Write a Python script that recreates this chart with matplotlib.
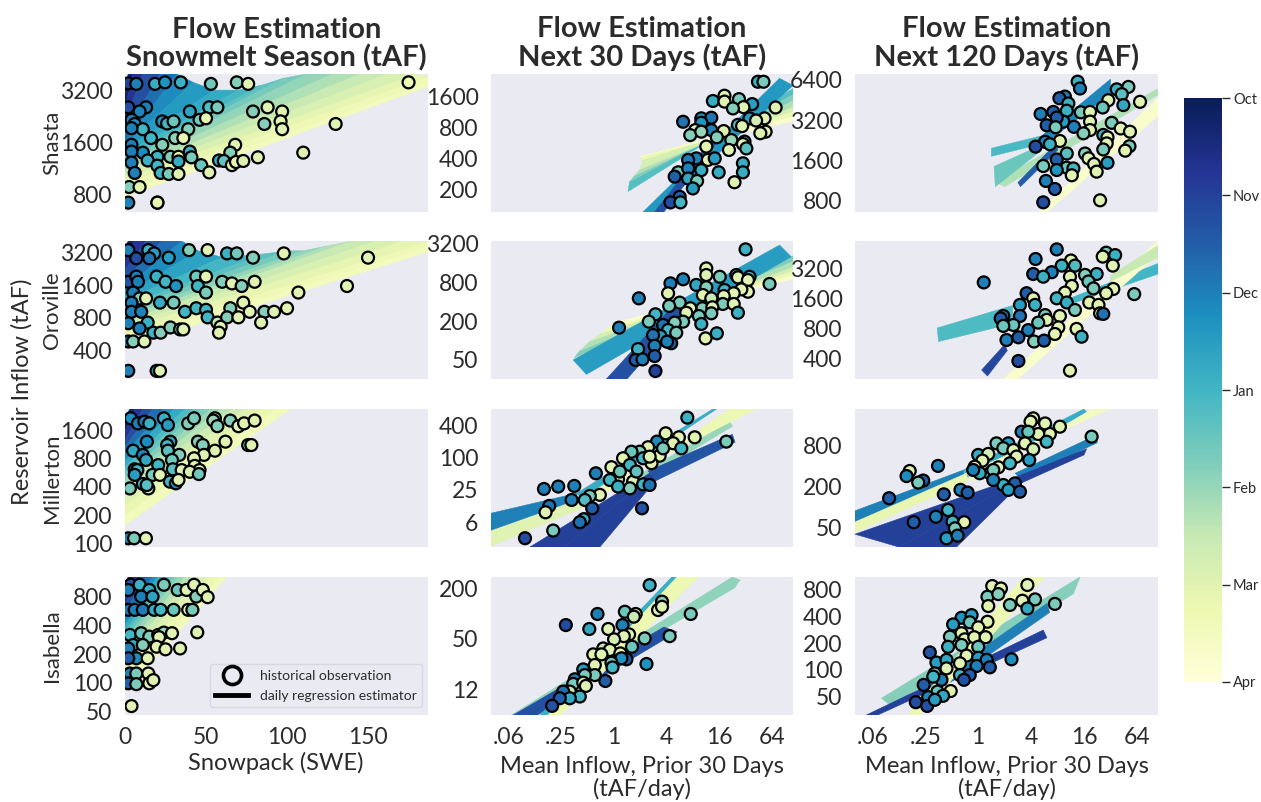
"""
Grid 4x3: observed flow vs predictor for four reservoirs, coloured by month.
Flows and inflows are stored as log2(tAF), read off the picture.
Rows below are (x, log2 flow, month) with month 0 = Oct ... 6 = Apr.
"""

import matplotlib
matplotlib.use("Agg")
import matplotlib.pyplot as plt
import numpy as np
from matplotlib.cm import ScalarMappable
from matplotlib.collections import PolyCollection
from matplotlib.colors import Normalize
from matplotlib.lines import Line2D

plt.rcParams["font.family"] = ["Lato", "DejaVu Sans"]

TEXT_COLOR = "#2b2b2b"
PANEL_BG = "#EAEAF2"

RESERVOIRS = ["Shasta", "Oroville", "Millerton", "Isabella"]
MONTHS = ["Oct", "Nov", "Dec", "Jan", "Feb", "Mar", "Apr"]
TITLES = ["Flow Estimation\nSnowmelt Season (tAF)", "Flow Estimation\nNext 30 Days (tAF)",
          "Flow Estimation\nNext 120 Days (tAF)"]

SNOW_TICKS = [0, 50, 100, 150]
INFLOW_TICKS = [-4, -2, 0, 2, 4, 6]
INFLOW_LABELS = [".06", ".25", "1", "4", "16", "64"]

# observed points
SHASTA_SNOW = [
    (2, 11.78, 1), (7, 11.77, 2), (18.5, 11.77, 2.8), (24.7, 11.8, 2.3), (34.4, 11.8, 2.9), (53, 11.77, 3.6),
    (69, 11.8, 3.8), (76, 11.77, 5), (175, 11.8, 5.3), (2, 11.32, 1.2), (13, 11.32, 2), (9, 11.24, 2.1),
    (40, 11.24, 2.6), (52, 11.32, 3.2), (57, 11.32, 3.7), (79, 11.24, 3.8), (88, 11.32, 5), (97, 11.24, 5),
    (4, 11.08, 2), (6, 11.0, 2.2), (23, 11.05, 2.3), (26, 11.01, 3), (30, 11.05, 3.5), (46, 11.08, 3.6),
    (50, 11.11, 5.1), (86, 11.0, 3.8), (96, 11.05, 5), (97, 10.9, 5), (130, 11.0, 5), (11, 10.9, 3),
    (4, 10.92, 2), (39, 10.9, 3.8), (31, 10.73, 3.9), (36, 10.73, 5.2), (16, 10.73, 3), (4, 10.6, 2),
    (23, 10.6, 3.8), (68, 10.6, 5), (11, 10.45, 2.2), (4, 10.47, 2), (20, 10.37, 3), (28, 10.37, 3.8),
    (33, 10.37, 5.2), (40, 10.47, 2.9), (41, 10.36, 3.7), (65, 10.45, 3.8), (110, 10.45, 5), (82, 10.36, 5),
    (4, 10.26, 2), (14, 10.3, 2.9), (20, 10.2, 3), (33, 10.28, 2.8), (47, 10.21, 3.5), (58, 10.3, 2.9),
    (61, 10.29, 3.4), (66, 10.21, 5), (68.5, 10.27, 5.2), (73, 10.29, 4.9), (6, 10.06, 2), (22, 10.06, 3),
    (27, 10.04, 3.7), (33, 10.04, 5), (52, 10.07, 5), (2.5, 9.79, 3.8), (9, 9.79, 5), (2, 9.49, 2),
    (20, 9.49, 2.9), (20, 9.49, 5.2),
]
OROVILLE_SNOW = [
    (2, 11.72, 2), (14.4, 11.72, 2.9), (18, 11.62, 2.5), (7, 11.47, 1.2), (15, 11.47, 1.8), (27, 11.49, 2.5),
    (39.5, 11.72, 3.8), (51, 11.72, 5), (63, 11.62, 2.9), (69, 11.62, 3.6), (79, 11.49, 3.8), (98, 11.62, 5),
    (150, 11.49, 5), (2, 10.75, 1.3), (7, 10.91, 2), (8, 10.75, 2), (19.5, 10.91, 2.9), (25, 10.75, 3),
    (31.5, 10.62, 2.3), (44, 10.91, 3.6), (50, 10.91, 5), (45, 10.62, 3), (60, 10.75, 3.8), (66, 10.7, 5),
    (72, 10.62, 3.8), (80, 10.75, 5), (50, 10.42, 3.7), (107, 10.42, 5), (137, 10.62, 5), (5, 10.42, 2),
    (9, 10.24, 3.8), (13, 10.24, 5), (4, 10.11, 2), (21.6, 10.11, 2.8), (30, 10.11, 3.7), (73, 10.11, 5),
    (4, 9.83, 2), (10, 9.83, 2), (37, 9.83, 3), (44, 9.94, 3), (50, 9.89, 3), (65, 9.94, 3.8), (77, 9.83, 5),
    (86, 9.83, 3.8), (92, 9.83, 4.9), (100, 9.94, 5), (2, 9.48, 2), (14, 9.5, 2.9), (51, 9.66, 3),
    (57, 9.5, 4.5), (63, 9.66, 3.8), (70, 9.66, 5), (84, 9.5, 5), (9, 9.32, 2), (17.5, 9.19, 3), (22, 9.19, 3.8),
    (28, 9.35, 3.8), (34, 9.29, 3.5), (36, 9.29, 5), (59, 9.37, 5), (58, 9.19, 5), (2, 8.92, 2), (5, 8.92, 3.8),
    (12, 8.92, 5), (2, 8.02, 2), (19.5, 8.02, 2.5), (21.6, 8.02, 5),
]
MILLERTON_SNOW = [
    (3.5, 11.08, 2.2), (8, 10.9, 2), (12, 10.96, 2), (15, 10.9, 2.9), (24, 11.08, 2.8), (26.5, 10.84, 2.5),
    (39, 10.9, 3.8), (42.6, 11.08, 3.7), (55.5, 11.08, 5), (54.5, 11, 4), (57, 10.8, 3.8), (65, 11, 3.8),
    (70, 10.8, 5), (73.5, 10.9, 5), (80, 11, 5), (13.5, 10.25, 2.2), (28, 10.25, 2.7), (26, 10.13, 3),
    (45, 10.25, 3.8), (48, 10.13, 3.8), (62, 10.25, 5), (76, 10.13, 3.5), (78, 10.13, 5), (5, 9.93, 2.7),
    (26.5, 9.93, 3.3), (11, 9.78, 2), (33.5, 9.78, 3.8), (55.5, 9.93, 5), (48.7, 9.78, 4.9), (42.6, 9.66, 5),
    (13, 9.6, 2.7), (29, 9.6, 3.6), (20.5, 9.42, 3), (6, 9.27, 2.5), (7.6, 9.24, 3), (29.5, 9.27, 3.3),
    (43, 9.39, 5), (46, 9.24, 5), (35, 9.24, 5), (40, 9.18, 4.8), (6, 9.07, 2.5), (17, 9.07, 3.7),
    (21.6, 9.07, 5), (45.6, 9.1, 3.6), (11, 8.75, 3), (27.7, 8.83, 3), (31.4, 8.77, 2.3), (33, 8.89, 5),
    (3, 8.59, 3.7), (14.4, 8.59, 5), (13.4, 8.71, 3.3), (2, 6.82, 2), (5.6, 6.82, 3.7), (12.9, 6.82, 5),
]
ISABELLA_SNOW = [
    (3.5, 10.05, 1.5), (2, 9.87, 2), (9, 10.05, 2.9), (15, 9.87, 2.8), (10, 9.64, 2), (17, 9.64, 2.6),
    (24, 10.05, 3.7), (32.5, 9.87, 3.5), (38, 9.87, 5), (42.6, 10.05, 5), (44, 9.64, 3.8), (48, 9.87, 5),
    (51, 9.62, 5), (2, 9.18, 1.8), (6, 9.18, 2), (11, 9.18, 1.9), (18, 9.18, 2.8), (22, 9.18, 3), (30, 9.18, 3.5),
    (39, 9.18, 5), (41.6, 9.18, 3.7), (44.6, 8.4, 4.9), (3, 8.31, 3), (10, 8.37, 3.5), (15, 8.25, 3.8),
    (20.5, 8.31, 5), (24, 8.39, 4), (29, 8.37, 5), (21, 8.23, 5), (5, 7.96, 2.8), (11, 7.96, 3.8), (2, 7.84, 2),
    (19.5, 7.9, 5), (25, 7.81, 5), (34, 7.84, 5), (7, 7.5, 2.2), (2, 7.5, 1.5), (14, 7.5, 5), (3, 6.97, 2),
    (7, 6.97, 3.7), (14.4, 6.97, 5), (2, 6.63, 1.5), (7, 6.6, 3.7), (15, 6.63, 5), (17.5, 6.74, 5), (4, 5.84, 5),
]

SHASTA_30 = [
    (5.47, 11.12, 2.9), (5.68, 11.12, 3.7), (3.76, 10.5, 2.8), (4.2, 10.67, 5), (4.2, 10.48, 4.9), (4.75, 10.56, 3.7),
    (5.25, 10.4, 2.5), (4.92, 10.3, 5), (4.52, 10.26, 3.8), (6.14, 10.29, 5), (2.63, 9.83, 1.8), (3.32, 9.94, 2.5),
    (3.7, 9.96, 1.8), (3.32, 9.8, 2.3), (5.15, 9.94, 2.5), (5.72, 9.94, 5), (5.4, 9.87, 4.8), (4.71, 9.73, 3.2),
    (4.87, 9.69, 5), (3.09, 9.56, 5), (3.7, 9.56, 2), (2.9, 9.4, 3.8), (3.32, 9.51, 4), (4.17, 9.53, 5),
    (5.76, 9.51, 5), (5.56, 9.46, 4.9), (3.91, 9.33, 3.8), (3.51, 9.03, 5), (4.46, 9.24, 4), (4.96, 9.19, 2.8),
    (4.9, 9.11, 5), (5.03, 8.97, 3.3), (4.37, 8.92, 5), (3.13, 8.65, 2), (2.82, 8.6, 1.9), (3.57, 8.6, 5),
    (3.83, 8.65, 2.5), (4.9, 8.49, 2.8), (3.32, 8.27, 2.8), (2.44, 8.2, 3.7), (2.82, 8.33, 2), (3.98, 8.2, 2.8),
    (4.9, 8.2, 2.8), (4.58, 7.88, 5), (2.31, 8.06, 1.5), (2.82, 8.0, 2.7), (3.16, 7.92, 3.7), (3.0, 7.68, 2.5),
    (2.5, 7.41, 1.5), (2.15, 7.23, 1.2), (2.53, 7.23, 3),
]
OROVILLE_30 = [
    (5.0, 11.33, 2.9), (0.2, 7.3, 2), (0.95, 8.81, 2), (1.58, 7.99, 3), (1.33, 7.61, 3.7), (3.51, 10.35, 5),
    (3.51, 10.01, 4.9), (4.02, 9.92, 3.7), (2.63, 9.79, 2), (2.15, 9.58, 2), (4.65, 10.01, 3.3), (4.71, 9.89, 5),
    (5.15, 9.92, 3), (5.09, 9.75, 5), (5.91, 9.55, 3.7), (3.13, 9.5, 2.7), (3.51, 9.38, 3.8), (2.06, 9.07, 5),
    (4.2, 9.24, 3), (3.38, 8.98, 5), (5.09, 9.15, 5), (4.84, 9.27, 5), (4.55, 9.07, 5), (4.17, 8.93, 5),
    (2.5, 8.59, 3.7), (3.7, 8.81, 4.5), (2.1, 8.42, 3.7), (4.14, 8.52, 3.7), (4.55, 8.52, 5), (3.36, 8.3, 3.8),
    (3.74, 8.35, 5), (2.9, 8.3, 5), (2.75, 8.07, 5), (3.7, 8.04, 3.7), (4.71, 8.07, 2.9), (1.87, 7.44, 1.8),
    (2.63, 7.61, 3.7), (2.31, 7.56, 3.8), (3.23, 7.9, 3.7), (3.32, 7.49, 2.9), (2.06, 7.18, 3), (2.37, 7.04, 3.7),
    (3.91, 7.01, 2.9), (3.48, 6.75, 5), (1.77, 6.87, 2.5), (1.49, 6.92, 1.8), (2.18, 6.5, 1.5), (2.02, 6.58, 2),
    (1.55, 6.37, 2), (0.92, 6.2, 2.9), (1.55, 5.84, 1.5), (0.83, 5.64, 1.5), (1.09, 5.67, 2), (1.58, 5.07, 1),
]
MILLERTON_30 = [
    (2.79, 9.14, 2.9), (4.27, 7.64, 3.7), (1.97, 8.16, 5), (1.64, 7.64, 2.2), (2.47, 7.91, 5), (3.07, 7.91, 5),
    (2.25, 7.54, 5), (2.56, 7.22, 3), (1.3, 7.29, 5), (1.74, 6.76, 5), (0.98, 7.01, 3.8), (0.67, 7.01, 3.5),
    (0.35, 6.6, 5), (-0.09, 6.04, 5), (-0.68, 5.66, 2), (1.43, 6.29, 5), (0.73, 5.14, 4.9), (0.16, 5.29, 5),
    (-0.15, 5.24, 3), (0.61, 4.72, 3.8), (0.16, 4.83, 2.9), (1.11, 4.97, 3), (1.36, 4.93, 1.8), (-1.5, 4.87, 2),
    (-2.11, 4.83, 2), (-2.65, 4.68, 2), (-0.53, 4.31, 5), (-0.91, 4.24, 3.7), (-1.1, 3.99, 3.2), (-1.6, 3.99, 2),
    (-2.45, 3.62, 1.8), (-2.59, 3.22, 5), (-0.82, 3.47, 1.5), (1.07, 3.47, 1.3), (-1.14, 2.79, 2.9), (-1.29, 2.6, 1.8),
    (-2.3, 2.08, 3.7), (-3.37, 1.6, 1.2), (0.61, 6.18, 3), (1.11, 6.6, 3), (1.87, 7.22, 3.7), (0.86, 5.77, 3.4),
    (0.23, 5.77, 3.5), (1.36, 6.7, 4.9),
]
ISABELLA_30 = [
    (1.36, 7.8, 2.9), (0.42, 6.72, 3.5), (0.83, 6.63, 5), (0.76, 6.52, 4.5), (-0.62, 6.63, 2), (-1.82, 6.18, 1.2),
    (-0.93, 6.02, 2.7), (-0.21, 6.02, 5), (1.83, 7.13, 3.8), (1.68, 6.79, 5), (1.83, 6.92, 5), (2.92, 6.63, 3.7),
    (0.33, 6.18, 2), (2.12, 5.73, 3.7), (1.17, 5.64, 3.7), (0.58, 5.8, 5), (0.38, 5.73, 5), (0.01, 5.6, 4.8),
    (0.69, 5.3, 3.5), (1.24, 4.6, 2.3), (-0.4, 5.23, 4.5), (-0.15, 5.17, 5), (-0.78, 4.99, 5), (0.25, 5.03, 5),
    (-0.47, 4.99, 5), (0.48, 4.79, 1.5), (0.29, 4.83, 2.3), (-0.09, 4.65, 3.7), (-0.72, 4.56, 5), (-0.05, 4.46, 3),
    (-0.32, 3.91, 1.5), (-0.72, 4.15, 3.7), (-1.16, 4.38, 2.5), (-1.1, 4.15, 3.7), (-1.48, 3.98, 2), (-1.54, 3.79, 3.7),
    (-1.16, 3.84, 5), (-1.06, 3.71, 5), (-1.67, 3.48, 4.5), (-1.29, 3.28, 3), (-1.92, 3.48, 1.8), (-1.67, 3.21, 2.7),
    (-2.05, 3.21, 1.5), (-2.34, 2.9, 1.3),
]

SHASTA_120 = [
    (3.76, 12.6, 2.9), (3.85, 12.43, 2), (5.24, 12.41, 2.9), (5.68, 12.47, 3.7), (5.43, 12.29, 3.3), (3.28, 12.23, 2),
    (3.07, 12.19, 1.5), (3.41, 12.06, 2.9), (4.92, 12.14, 5), (6.12, 12.1, 5), (5.49, 12.02, 2.7), (4.71, 11.96, 3.5),
    (2.36, 11.8, 2), (2.84, 11.85, 1.5), (3.35, 11.88, 2.9), (3.88, 11.84, 3.7), (4.23, 11.85, 5), (3.22, 11.61, 2.5),
    (2.97, 11.71, 1.5), (5.05, 11.58, 3.7), (2.59, 11.52, 1.5), (3.62, 11.48, 2), (2.93, 11.47, 3.7), (4.23, 11.61, 5),
    (4.23, 11.4, 5), (3.98, 11.32, 3.8), (5.39, 11.44, 5), (5.74, 11.36, 5), (4.73, 11.28, 2.9), (4.89, 11.22, 5),
    (3.09, 11.13, 5), (2.53, 11.11, 2), (2.71, 11.05, 2.9), (2.17, 10.99, 1.2), (4.86, 11.07, 5), (4.73, 10.92, 3.7),
    (5.72, 11.0, 3.7), (5.56, 10.89, 5), (3.35, 10.82, 3.3), (4.04, 10.82, 3.8), (2.97, 10.67, 1.5), (4.17, 10.7, 5),
    (4.89, 10.59, 2.5), (4.38, 10.56, 5), (2.46, 10.51, 3.7), (3.35, 10.47, 3.5), (3.6, 10.45, 3), (2.97, 10.41, 2.3),
    (4.48, 10.37, 5), (3.54, 10.28, 5), (2.56, 10.14, 2), (2.9, 9.94, 1.5), (2.46, 9.61, 1.2), (4.61, 9.66, 5),
]
OROVILLE_120 = [
    (2.97, 12.27, 2), (2.17, 11.95, 2), (4.84, 12.16, 3.7), (5.18, 12.08, 2.9), (4.71, 12.03, 5), (3.51, 11.9, 5),
    (3.16, 11.73, 2.9), (5.09, 11.73, 5), (3.66, 11.73, 3.2), (0.21, 11.17, 2), (2.08, 11.45, 1.5), (2.78, 11.51, 2),
    (2.46, 11.36, 2.9), (4.48, 11.45, 2.9), (4.04, 11.42, 3.8), (3.47, 11.36, 5), (4.17, 11.2, 3.5), (3.54, 11.05, 5),
    (4.36, 10.97, 3.7), (5.11, 10.95, 5), (5.9, 10.78, 3.7), (3.28, 10.83, 5), (4.84, 10.81, 5), (1.83, 10.81, 1.5),
    (2.08, 10.64, 5), (2.97, 10.64, 3), (1.58, 10.42, 2.5), (2.15, 10.42, 2.9), (4.2, 10.5, 5), (4.55, 10.42, 5),
    (3.35, 10.5, 2.8), (3.66, 10.25, 3.7), (4.61, 10.14, 5), (4.73, 10.12, 1.8), (0.95, 10.05, 2), (1.58, 10.05, 1.8),
    (2.53, 10.08, 3.7), (3.09, 10.05, 5), (2.59, 9.92, 5), (2.27, 9.83, 3.5), (0.85, 9.97, 1.5), (1.33, 9.75, 3.5),
    (0.95, 9.72, 3.5), (3.03, 9.67, 5), (3.72, 9.62, 5), (1.89, 9.58, 2), (2.9, 9.45, 5), (3.91, 9.36, 2.9),
    (1.07, 9.25, 2), (1.52, 9.34, 1.5), (2.11, 9.2, 3.8), (2.49, 9.23, 1.5), (1.52, 8.55, 1.2), (3.47, 8.23, 5),
]
MILLERTON_120 = [
    (2.08, 11.0, 5), (1.98, 10.84, 5), (2.53, 10.75, 5), (3.09, 10.59, 5), (1.64, 10.34, 2), (2.71, 10.23, 5),
    (2.27, 10.23, 5), (1.89, 10.34, 3.5), (4.29, 10.1, 3.7), (2.59, 9.85, 3), (1.77, 9.77, 5), (0.69, 9.77, 3.7),
    (1.14, 9.77, 2.5), (0.95, 9.53, 3.7), (1.33, 9.44, 5), (2.08, 9.48, 4.8), (0.0, 9.2, 2.8), (0.38, 9.25, 4.8),
    (1.45, 9.12, 5), (1.93, 8.95, 2.5), (0.16, 8.92, 5), (-1.52, 8.66, 2), (-0.13, 8.62, 5), (0.76, 8.59, 5),
    (-2.59, 8.41, 5), (-2.71, 8.16, 2.2), (-2.08, 7.94, 1.5), (-2.27, 7.84, 3.7), (1.2, 8.79, 3), (0.44, 8.3, 3.3),
    (0.06, 8.3, 2.8), (-0.19, 8.46, 2), (0.95, 7.72, 2.8), (1.39, 7.8, 1.5), (1.14, 7.48, 2.5), (1.58, 7.39, 1.5),
    (-1.3, 7.26, 1.5), (-0.67, 7.48, 2), (-0.4, 7.35, 1.5), (-3.37, 7.07, 1.5), (-1.14, 6.49, 3), (-2.44, 5.89, 1.5),
    (-1.6, 6.16, 2), (-0.97, 5.92, 3), (-0.53, 5.89, 5), (-0.88, 5.59, 3.7), (-1.2, 5.1, 2.5), (-0.78, 5.23, 2),
    (0.57, 8.46, 3.7), (0.57, 7.97, 2),
]
ISABELLA_120 = [
    (0.53, 9.79, 5), (0.86, 9.7, 5), (1.86, 9.83, 5), (0.35, 9.39, 3.7), (0.76, 9.49, 3.8), (0.38, 9.04, 5),
    (1.2, 9.08, 3.7), (1.67, 9.24, 5), (2.15, 9.29, 3.7), (1.86, 8.95, 2.7), (2.9, 9.12, 3.7), (-0.63, 8.6, 2.3),
    (-0.25, 8.7, 2.5), (-0.95, 8.35, 2.5), (-0.32, 8.43, 3.5), (0.35, 8.45, 5), (-0.63, 8.02, 5), (0.0, 8.24, 5),
    (-1.07, 7.89, 3.7), (-0.51, 7.79, 5), (-0.15, 7.87, 5), (0.28, 7.87, 5), (-1.83, 7.3, 1.3), (-1.14, 7.51, 2.9),
    (-0.63, 7.58, 3.7), (0.0, 7.51, 3.5), (1.26, 7.04, 2.2), (-0.44, 7.18, 5), (-1.58, 6.92, 2.5), (-1.2, 7.02, 2.7),
    (-0.69, 6.89, 5), (0.0, 7.1, 2.5), (0.32, 7.02, 2), (-1.2, 6.7, 5), (-1.64, 6.51, 3.7), (-0.69, 6.45, 3),
    (-0.06, 6.79, 2), (0.44, 6.74, 1.5), (-0.32, 6.45, 1.5), (-0.54, 6.27, 1.3), (-1.39, 6.27, 2), (-2.06, 6.08, 1.5),
    (-1.04, 5.85, 5), (-1.54, 5.83, 3.5), (-1.33, 5.67, 2.7), (-1.89, 5.62, 2.2), (-2.36, 5.43, 1.2), (-1.93, 5.29, 1.3),
    (-1.64, 5.52, 2.5), (-1.7, 6.39, 3),
]

# regression estimators as fans: each group is a list of (month, x0, log2 y0, x1, log2 y1)
# and the space between neighbouring lines of a group is filled
SHASTA_SNOW_FIT = [[
    (0, 0, 11.7, 2, 11.96), (0.5, 0, 11.3, 5, 11.96), (1, 0, 11.05, 11, 11.96), (1.5, 0, 10.85, 22, 11.96),
    (2, 0, 10.65, 32, 11.96), (2.3, 0, 10.58, 42, 11.8), (2.6, 0, 10.5, 55, 11.65), (2.9, 0, 10.43, 70, 11.65),
    (3.2, 0, 10.37, 85, 11.75), (3.5, 0, 10.3, 98, 11.88), (3.8, 0, 10.24, 112, 11.96), (4.1, 0, 10.17, 128, 11.96),
    (4.4, 0, 10.1, 145, 11.96), (4.7, 0, 10.03, 162, 11.96), (5, 0, 9.95, 180, 11.96), (5.2, 0, 9.85, 187, 11.9),
    (5.4, 0, 9.72, 187, 11.8), (5.5, 0, 9.6, 187, 11.72),
]]
OROVILLE_SNOW_FIT = [[
    (0, 0, 11.8, 2, 12), (0.5, 0, 11.4, 6, 12), (1, 0, 11.1, 13, 12), (1.5, 0, 10.8, 23, 12), (2, 0, 10.55, 35, 12),
    (2.4, 0, 10.35, 45, 11.7), (2.8, 0, 10.18, 60, 11.5), (3.2, 0, 10.0, 85, 11.6), (3.5, 0, 9.9, 100, 11.7),
    (3.8, 0, 9.78, 110, 11.7), (4.1, 0, 9.66, 125, 11.85), (4.4, 0, 9.54, 140, 12), (4.7, 0, 9.42, 155, 12),
    (5, 0, 9.3, 172, 12), (5.2, 0, 9.12, 187, 11.96), (5.4, 0, 8.95, 187, 11.82), (5.5, 0, 8.75, 187, 11.67),
]]
MILLERTON_SNOW_FIT = [[
    (0, 0, 11.1, 3, 11.41), (0.5, 0, 10.6, 6, 11.41), (1, 0, 10.3, 11, 11.41), (1.5, 0, 10.05, 17, 11.41),
    (2, 0, 9.8, 24, 11.41), (2.5, 0, 9.55, 30, 11.41), (3, 0, 9.35, 37, 11.41), (3.3, 0, 9.2, 42, 11.41),
    (3.6, 0, 9.05, 47, 11.41), (3.9, 0, 8.9, 53, 11.41), (4.2, 0, 8.75, 59, 11.41), (4.5, 0, 8.55, 66, 11.41),
    (4.8, 0, 8.3, 74, 11.41), (5.1, 0, 8.0, 84, 11.41), (5.3, 0, 7.65, 93, 11.41), (5.5, 0, 7.29, 102, 11.41),
]]
ISABELLA_SNOW_FIT = [[
    (0, 0, 10.1, 2, 10.32), (0.5, 0, 9.7, 5, 10.32), (1, 0, 9.35, 9, 10.32), (1.5, 0, 9.1, 13, 10.32),
    (2, 0, 8.85, 17, 10.32), (2.5, 0, 8.65, 20, 10.32), (3, 0, 8.45, 24, 10.32), (3.3, 0, 8.3, 27, 10.32),
    (3.6, 0, 8.15, 30, 10.32), (3.9, 0, 8.0, 33, 10.32), (4.2, 0, 7.8, 37, 10.32), (4.5, 0, 7.6, 41, 10.32),
    (4.8, 0, 7.35, 46, 10.32), (5.1, 0, 7.05, 52, 10.32), (5.3, 0, 6.7, 58, 10.32), (5.5, 0, 6.34, 63, 10.32),
]]
SHASTA_30_FIT = [
    [(3, 0.54, 7.58, 6.8, 10.9), (3.5, 0.6, 7.9, 6.8, 10.7), (4, 0.8, 8.1, 6.8, 10.5), (4.5, 1.0, 8.3, 6.8, 10.3),
     (5, 1.1, 8.6, 6.8, 10.15), (5.5, 1.0, 8.7, 6.8, 10.0), (6, 1.9, 8.9, 6.8, 9.85)],
    [(2.6, 1.11, 6.92, 6.29, 11.23), (2.2, 1.55, 6.92, 6.8, 11.0)],
    [(1, 1.55, 6.92, 3.89, 9.46), (1.5, 1.9, 6.92, 4.3, 9.6)],
]
OROVILLE_30_FIT = [
    [(3.5, -1.5, 5.75, 6.8, 11.0), (4, -1.3, 6.1, 6.8, 10.7), (4.5, -0.9, 6.6, 6.8, 10.4), (5, -0.5, 7.0, 6.8, 10.2),
     (5.5, -0.2, 7.3, 6.8, 10.0), (6, 0.1, 7.6, 6.8, 9.8)],
    [(2.7, -1.54, 5.64, 6.29, 11.55), (2.3, -1.04, 4.9, 6.73, 10.95)],
    [(1, -0.28, 4.66, 2.3, 8.5), (1.5, 0.5, 4.66, 3, 8.5)],
]
MILLERTON_30_FIT = [
    [(4, 1.0, 5.6, 4.4, 8.9), (4, 1.2, 5.3, 4.5, 8.6)],
    [(1, -3.18, 1.05, 1.36, 5.66), (1, -1.9, 1.05, 1.5, 5.6), (1, -0.53, 1.05, 1.74, 5.5)],
    [(1.5, 1.3, 5.8, 4.5, 8.1), (1.2, 1.6, 5.2, 4.6, 7.6)],
    [(5.5, -4.66, 2.05, -1.16, 4.2), (4.5, -4.66, 1.1, -1.04, 3.6)],
    [(5.5, -1.16, 4.2, 5.4, 9.68), (5, -1.04, 3.6, 4.4, 9.68)],
    [(2, -4.66, 3.16, -1.41, 4.41), (2, -4.66, 2.1, -1.41, 4.0)],
    [(2.8, -1.41, 4.41, 3.76, 9.68), (2.8, -1.2, 4.1, 3.9, 9.68)],
]
ISABELLA_30_FIT = [
    [(4, -3.88, 2.53, 4.5, 8.13), (3.8, -3.4, 2.53, 4.8, 8.0)],
    [(4, 1.11, 5.7, 4.77, 8.0), (3.8, 1.11, 5.5, 4.6, 7.7)],
    [(1, -3.81, 2.53, 1.9, 6.1), (1.5, -2.9, 2.53, 2.4, 5.9)],
    [(2.7, -2.8, 2.53, 2.2, 8.13), (3, -2.5, 2.53, 2.4, 8.13)],
    [(5.5, -2.5, 2.53, 2.4, 8.13), (5, -2.0, 2.53, 3.2, 8.13)],
]
SHASTA_120_FIT = [
    [(4, 0.63, 10.12, 6.8, 12.43), (4.5, 1.0, 10.0, 6.8, 12.27)],
    [(3, 0.5, 10.95, 2.34, 11.25), (3.2, 0.5, 10.75, 2.34, 11.05)],
    [(3.5, 0.6, 10.5, 2.3, 11.0), (3.5, 0.65, 10.0, 2.3, 10.85)],
    [(2, 2.3, 11.2, 5, 12.66), (2.2, 2.3, 10.95, 5.0, 12.3)],
    [(1.5, 1.5, 10.1, 3.0, 11.1), (1.5, 1.6, 10.0, 3.0, 10.9)],
    [(5.5, 2.3, 9.37, 6.8, 12.2), (6, 2.6, 9.37, 6.8, 11.75)],
]
OROVILLE_120_FIT = [
    [(3, -1.55, 9.65, 1.3, 10.4), (3.3, -1.5, 9.2, 1.3, 9.8)],
    [(3, 3.5, 10.65, 6.8, 11.8), (3, 3.5, 10.45, 6.8, 11.45)],
    [(1, 0.13, 8.25, 1, 9.1), (1.2, 0.35, 8.05, 1.1, 8.9)],
    [(6, 0.95, 7.95, 6.8, 12.55), (5.5, 1.5, 7.95, 6.8, 12.1)],
    [(4.5, 5, 11.4, 6.8, 12.4), (4.5, 5, 11.2, 6.8, 12.0)],
]
MILLERTON_120_FIT = [
    [(1, -4.66, 5.3, 1.4, 8.05), (1, -3, 4.67, 1.5, 7.9), (1, -0.82, 4.67, 1.7, 7.9)],
    [(2, 1.4, 8.3, 4.5, 10.2), (2, 1.6, 8.0, 4.5, 9.8)],
    [(1, 1.4, 8.1, 4.1, 9.5), (1, 1.6, 7.8, 4.0, 9.2)],
    [(2, -4.66, 6.45, -0.57, 8.45), (2, -4.66, 5.9, -0.5, 8.1)],
    [(2.8, -0.57, 8.45, 4, 11.46), (2.8, -0.4, 8.1, 4.1, 11.3)],
    [(5.5, -4.66, 5.9, -0.44, 8.3), (4.8, -4.66, 5.4, -0.4, 7.9)],
    [(5.5, -0.44, 8.3, 4.99, 11.46), (5.5, -0.2, 7.9, 4.3, 11.46)],
]
ISABELLA_120_FIT = [
    [(4, -3.66, 5.58, 3.85, 10.13), (3.6, -3.3, 5.3, 3.6, 9.5)],
    [(1, -4.23, 4.95, 2.46, 8.14), (1, -3.8, 4.95, 2.6, 7.85)],
    [(2, -2.1, 5.9, 2.6, 9.14), (2, -1.9, 5.6, 2.7, 8.8)],
    [(5.5, -2.65, 4.95, 1.7, 10.13), (5, -2.2, 4.95, 2.5, 10.13)],
]

SNOW_YTICKS = [[3200, 1600, 800], [3200, 1600, 800, 400], [1600, 800, 400, 200, 100], [800, 400, 200, 100, 50]]
D30_YTICKS = [[1600, 800, 400, 200], [3200, 800, 200, 50], [400, 100, 25, 6], [200, 50, 12]]
D120_YTICKS = [[6400, 3200, 1600, 800], [3200, 1600, 800, 400], [800, 200, 50], [800, 400, 200, 100, 50]]

# y limits in log2(tAF), one per panel
SNOW_YLIM = [(9.31, 11.96), (7.77, 12.0), (6.51, 11.41), (5.53, 10.32)]
D30_YLIM = [(6.92, 11.37), (4.66, 11.76), (1.05, 9.68), (2.53, 8.13)]
D120_YLIM = [(9.37, 12.79), (7.95, 12.55), (4.67, 11.46), (4.95, 10.13)]

SNOW_XLIM = (0, 187)
INFLOW_XLIM = (-4.66, 6.8)

W, H = 1261, 802
COL_X = [(125, 428), (491, 793), (855, 1158)]
ROW_Y = [(74, 212), (241, 379), (409, 547), (577, 715)]

cmap = plt.get_cmap("YlGnBu_r")
norm = Normalize(0, 6)


def px_axes(fig, x0, x1, y0, y1):
    return fig.add_axes([x0 / W, 1 - y1 / H, (x1 - x0) / W, (y1 - y0) / H])


def draw_fans(ax, groups):
    polys, months = [], []
    for group in groups:
        for a, b in zip(group[:-1], group[1:]):
            polys.append([(a[1], a[2]), (a[3], a[4]), (b[3], b[4]), (b[1], b[2])])
            months.append((a[0] + b[0]) / 2)
    colors = cmap(norm(months))
    ax.add_collection(PolyCollection(polys, facecolors=colors, edgecolors=colors, linewidths=0.4, zorder=2))


def draw_panel(ax, points, fans, xlim, ylim, yticks):
    ax.set_facecolor(PANEL_BG)
    for spine in ax.spines.values():
        spine.set_visible(False)

    draw_fans(ax, fans)

    pts = np.array(points)
    ax.scatter(pts[:, 0], pts[:, 1], c=pts[:, 2], cmap=cmap, norm=norm, s=74,
               edgecolors="black", linewidths=1.6, zorder=3)

    ax.set_xlim(xlim)
    ax.set_ylim(ylim)
    ax.set_yticks(np.log2(yticks))
    ax.set_yticklabels([str(t) for t in yticks])
    ax.tick_params(length=0, pad=9, labelsize=16.5, colors=TEXT_COLOR)


def main():
    fig = plt.figure(figsize=(W / 100, H / 100), dpi=100)

    columns = [
        ([SHASTA_SNOW, OROVILLE_SNOW, MILLERTON_SNOW, ISABELLA_SNOW],
         [SHASTA_SNOW_FIT, OROVILLE_SNOW_FIT, MILLERTON_SNOW_FIT, ISABELLA_SNOW_FIT],
         SNOW_YLIM, SNOW_YTICKS, SNOW_XLIM),
        ([SHASTA_30, OROVILLE_30, MILLERTON_30, ISABELLA_30],
         [SHASTA_30_FIT, OROVILLE_30_FIT, MILLERTON_30_FIT, ISABELLA_30_FIT],
         D30_YLIM, D30_YTICKS, INFLOW_XLIM),
        ([SHASTA_120, OROVILLE_120, MILLERTON_120, ISABELLA_120],
         [SHASTA_120_FIT, OROVILLE_120_FIT, MILLERTON_120_FIT, ISABELLA_120_FIT],
         D120_YLIM, D120_YTICKS, INFLOW_XLIM),
    ]

    for c, (points, fans, ylims, yticks, xlim) in enumerate(columns):
        x0, x1 = COL_X[c]
        for r in range(4):
            y0, y1 = ROW_Y[r]
            ax = px_axes(fig, x0, x1, y0, y1)
            draw_panel(ax, points[r], fans[r], xlim, ylims[r], yticks[r])

            if r < 3:
                ax.set_xticks([])
            elif c == 0:
                ax.set_xticks(SNOW_TICKS)
                ax.set_xticklabels([str(t) for t in SNOW_TICKS])
            else:
                ax.set_xticks(INFLOW_TICKS)
                ax.set_xticklabels(INFLOW_LABELS)

            if c == 0:
                fig.text(52 / W, 1 - (y0 + y1) / 2 / H, RESERVOIRS[r], rotation=90, ha="center", va="center",
                         fontsize=16, color=TEXT_COLOR)
            if r == 3 and c == 0:
                handles = [
                    Line2D([0], [0], marker="o", linestyle="none", markerfacecolor="none",
                           markeredgecolor="black", markeredgewidth=2.6, markersize=13, label="historical observation"),
                    Line2D([0], [0], color="black", lw=3.5, label="daily regression estimator"),
                ]
                ax.legend(handles=handles, loc="lower right", bbox_to_anchor=(0.98, 0.055), borderaxespad=0,
                          fontsize=10, labelcolor=TEXT_COLOR, facecolor=PANEL_BG, edgecolor="#d8d8e2",
                          framealpha=1, handlelength=2.4, labelspacing=0.6)

        fig.text((x0 + x1) / 2 / W, 1 - 71 / H, TITLES[c], ha="center", va="bottom", fontsize=21,
                 fontweight="bold", color=TEXT_COLOR, linespacing=1.05)

    fig.text(276 / W, 1 - 763 / H, "Snowpack (SWE)", ha="center", va="center", fontsize=17, color=TEXT_COLOR)
    for c in (1, 2):
        x0, x1 = COL_X[c]
        fig.text((x0 + x1) / 2 / W, 1 - 778 / H, "Mean Inflow, Prior 30 Days\n(tAF/day)", ha="center", va="center",
                 fontsize=17, color=TEXT_COLOR, linespacing=1.05)
    fig.text(22 / W, 1 - 392 / H, "Reservoir Inflow (tAF)", rotation=90, ha="center", va="center",
             fontsize=17, color=TEXT_COLOR)

    cax = px_axes(fig, 1184, 1222, 98, 682)
    cb = fig.colorbar(ScalarMappable(norm=norm, cmap=cmap), cax=cax)
    cb.outline.set_visible(False)
    cb.set_ticks(range(len(MONTHS)))
    cb.set_ticklabels(MONTHS)
    cax.invert_yaxis()
    cax.tick_params(length=6, width=1, color=TEXT_COLOR, labelsize=10.5, labelcolor=TEXT_COLOR, pad=2)

    fig.savefig("out.png", dpi=100)
    plt.close(fig)


if __name__ == "__main__":
    main()
